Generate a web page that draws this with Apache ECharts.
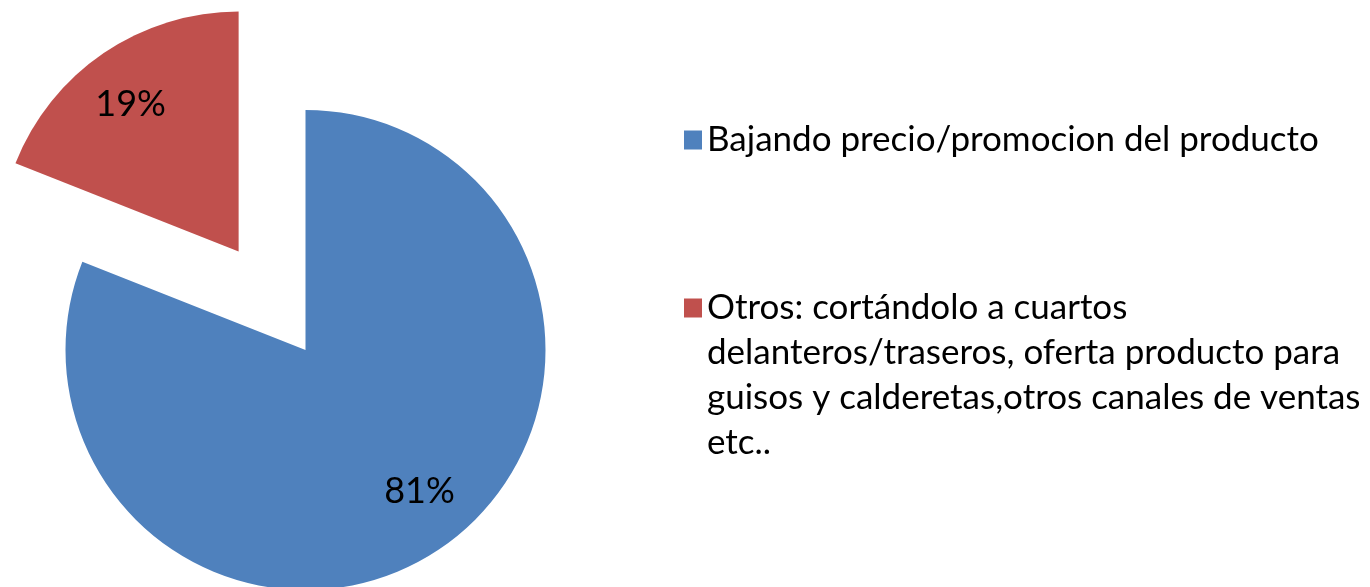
<!DOCTYPE html>
<html>
<head>
<meta charset="utf-8">
<title>pie</title>
<script src="https://cdn.jsdelivr.net/npm/echarts@6/dist/echarts.min.js"></script>
<style>
  html, body { margin: 0; padding: 0; background: #fff; }
  #chart { width: 1370px; height: 587px; }
</style>
</head>
<body>
<div id="chart"></div>
<script>
// datos
const categories = [
    'Bajando precio/promocion del producto',
    'Otros: cortándolo a cuartos\ndelanteros/traseros, oferta producto para\nguisos y calderetas,otros canales de ventas\netc..'
]
const values = [81, 19]
const colors = ['#4F81BD', '#C0504D']

const chart = echarts.init(document.getElementById('chart'))

const center = [305.5, 350]
const radius = 240
const explode = 119
const fontFamily = 'Lato, "Open Sans", sans-serif'
// pequeño ajuste de las etiquetas (Excel no las pone justo en la bisectriz)
const labelNudge = [[10, -12], [-4, 6]]

const pieData = categories.map((name, i) => ({
    name: name,
    value: values[i],
    selected: i === 1, // slice "Otros" separada
    itemStyle: { color: colors[i] }
}))

const legendText = {
    fontFamily: fontFamily,
    fontSize: 35,
    lineHeight: 45,
    color: '#000'
}

chart.setOption({
    animation: false,
    legend: [
        {
            data: [categories[0]],
            orient: 'vertical',
            left: 684,
            top: 117.5,
            padding: 0,
            icon: 'rect',
            itemWidth: 18,
            itemHeight: 19,
            selectedMode: false,
            textStyle: legendText
        },
        {
            data: [categories[1]],
            orient: 'vertical',
            left: 684,
            top: 150.5,
            padding: 0,
            icon: 'rect',
            itemWidth: 18,
            itemHeight: 19,
            selectedMode: false,
            // lineas vacias arriba para que el icono quede en la primera linea
            formatter: name => '\n\n\n' + name,
            textStyle: legendText
        }
    ],
    series: [
        {
            name: 'pie',
            type: 'pie',
            center: center,
            radius: radius,
            startAngle: 90,
            clockwise: true,
            selectedMode: 'single',
            selectedOffset: explode,
            label: { show: false },
            labelLine: { show: false },
            emphasis: { disabled: true },
            data: pieData
        },
        {
            // anillo transparente solo para colocar las etiquetas
            name: 'labels',
            type: 'pie',
            center: center,
            radius: [124, radius],
            startAngle: 90,
            clockwise: true,
            silent: true,
            selectedMode: 'single',
            selectedOffset: explode,
            itemStyle: { color: 'rgba(0,0,0,0)' },
            label: {
                show: true,
                position: 'inside',
                formatter: '{d}%',
                fontFamily: fontFamily,
                fontSize: 36,
                color: '#000'
            },
            labelLine: { show: false },
            emphasis: { disabled: true },
            data: pieData.map((d, i) => ({
                name: d.name,
                value: d.value,
                selected: d.selected,
                label: { offset: labelNudge[i] },
                select: { label: { offset: labelNudge[i] } }
            }))
        }
    ]
})
</script>
</body>
</html>
